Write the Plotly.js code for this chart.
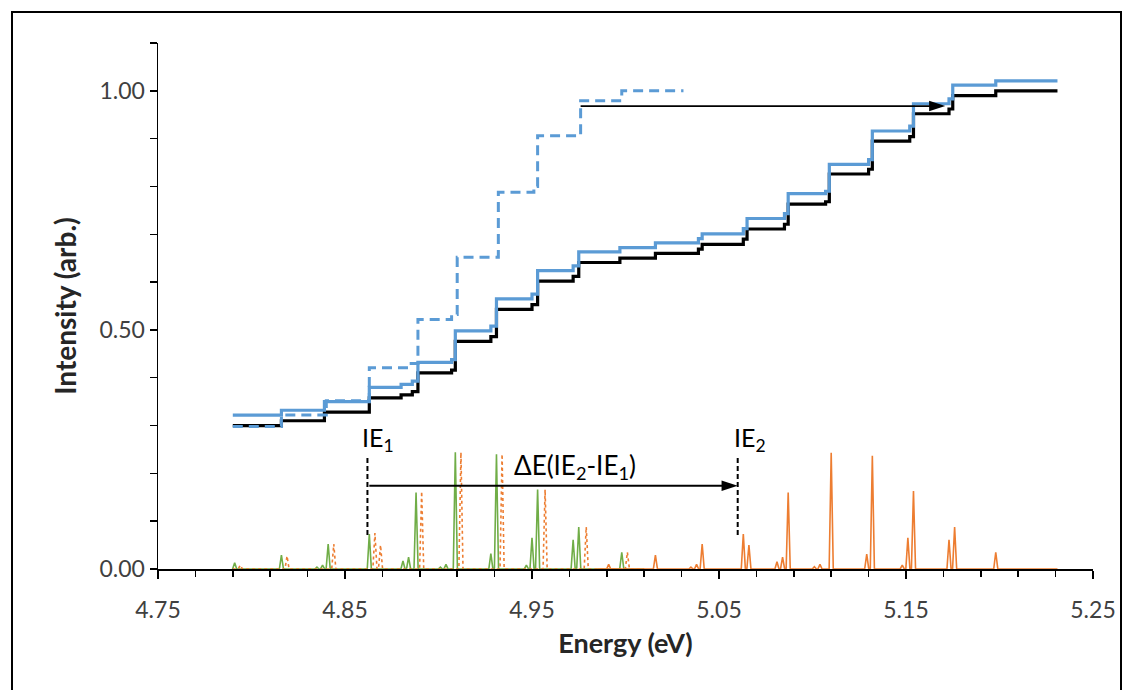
<!DOCTYPE html>
<html>
<head>
<meta charset="utf-8">
<script src="https://cdn.plot.ly/plotly-3.0.1.min.js"></script>
<style>
  html, body { margin: 0; padding: 0; background: #fff; }
  #wrap { position: relative; width: 1133px; height: 690px; overflow: hidden; }
  #chart { position: absolute; left: 0; top: 0; width: 1133px; height: 690px; }
  #frame { position: absolute; left: 11px; top: 11px; width: 1111px; height: 700px;
           border: 2px solid #000; box-sizing: border-box; pointer-events: none; }
</style>
</head>
<body>
<div id="wrap">
  <div id="chart"></div>
  <div id="frame"></div>
</div>
<script>
// ---- Cumulative (integrated) curves: step positions (eV) and levels ----
const stepEnergy = [4.790, 4.816, 4.839, 4.863, 4.880, 4.886, 4.889, 4.907, 4.909, 4.928, 4.931,
                    4.950, 4.953, 4.972, 4.975, 4.997, 5.016, 5.039, 5.041, 5.063, 5.065, 5.085,
                    5.087, 5.107, 5.109, 5.130, 5.132, 5.152, 5.154, 5.173, 5.175, 5.198, 5.231];
const blackLevels = [0.300, 0.310, 0.328, 0.358, 0.364, 0.371, 0.410, 0.416, 0.476, 0.486, 0.543,
                     0.553, 0.602, 0.612, 0.641, 0.650, 0.660, 0.669, 0.679, 0.690, 0.711, 0.721,
                     0.763, 0.768, 0.826, 0.836, 0.895, 0.904, 0.952, 0.962, 0.990, 1.000, 1.000];
const blueLevels  = [0.322, 0.332, 0.350, 0.380, 0.386, 0.393, 0.432, 0.438, 0.498, 0.508, 0.565,
                     0.575, 0.624, 0.634, 0.663, 0.672, 0.682, 0.691, 0.701, 0.712, 0.733, 0.743,
                     0.785, 0.790, 0.846, 0.856, 0.916, 0.926, 0.973, 0.983, 1.012, 1.021, 1.021];

const dashedEnergy = [4.790, 4.816, 4.840, 4.863, 4.884, 4.889, 4.907, 4.910, 4.932, 4.951, 4.953, 4.976, 4.998, 5.031];
const dashedLevels = [0.298, 0.322, 0.352, 0.421, 0.430, 0.522, 0.532, 0.652, 0.788, 0.800, 0.906, 0.979, 1.000, 1.000];

// ---- Stick spectra: peak centres (eV) and heights ----
const greenPeakE = [4.791, 4.816, 4.835, 4.838, 4.841, 4.863, 4.881, 4.884, 4.888, 4.901, 4.904, 4.909,
                    4.928, 4.931, 4.947, 4.950, 4.953, 4.972, 4.975, 4.998];
const greenPeakH = [0.013, 0.029, 0.004, 0.008, 0.052, 0.073, 0.017, 0.025, 0.160, 0.004, 0.010, 0.244,
                    0.032, 0.240, 0.008, 0.065, 0.166, 0.061, 0.088, 0.035];

const dotPeakE = [4.794, 4.819, 4.844, 4.866, 4.869, 4.891, 4.912, 4.934, 4.957, 4.979, 5.001];
const dotPeakH = [0.008, 0.027, 0.052, 0.075, 0.050, 0.162, 0.244, 0.240, 0.166, 0.088, 0.035];

const orangePeakE = [4.991, 5.016, 5.035, 5.038, 5.041, 5.063, 5.066, 5.081, 5.084, 5.087, 5.101, 5.104,
                     5.110, 5.129, 5.132, 5.148, 5.151, 5.154, 5.173, 5.176, 5.198];
const orangePeakH = [0.010, 0.029, 0.004, 0.010, 0.052, 0.073, 0.050, 0.015, 0.025, 0.160, 0.005, 0.010,
                     0.243, 0.031, 0.237, 0.008, 0.065, 0.163, 0.061, 0.088, 0.035];

const greenSpan  = [4.790, 5.010];
const dotSpan    = [4.790, 5.010];
const orangeSpan = [4.985, 5.231];

// ---- Annotation values ----
const IE1 = 4.862, IE2 = 5.060;
const ieLineY = [0.071, 0.233];
const deltaArrowY = 0.174;
const shiftArrow = {from: 4.976, to: 5.171, y: 0.968};

// build a narrow-peak line trace from stick positions/heights
function spectrum(centres, heights, span, halfWidth) {
  const xs = [span[0]], ys = [0];
  centres.forEach((c, i) => {
    xs.push(c - halfWidth, c, c + halfWidth);
    ys.push(0, heights[i], 0);
  });
  xs.push(span[1]); ys.push(0);
  return {x: xs, y: ys};
}
const HW = 0.0011;
const gS = spectrum(greenPeakE, greenPeakH, greenSpan, HW);
const dS = spectrum(dotPeakE, dotPeakH, dotSpan, HW);
const oS = spectrum(orangePeakE, orangePeakH, orangeSpan, HW);

const BLUE = '#5B9BD5', ORANGE = '#ED7D31', GREEN = '#70AD47';
const FONT = 'Lato, "Open Sans", sans-serif';
const TXT = '#404040';

function arrowTrace(x0, x1, y, width) {
  return {x: [x0, x1], y: [y, y], mode: 'lines+markers', hoverinfo: 'skip',
          line: {color: '#000', width: width},
          marker: {symbol: 'arrow', angleref: 'previous', size: [0, 17], color: '#000',
                   opacity: 1, line: {width: 0}}};
}

const traces = [
  {x: gS.x, y: gS.y, mode: 'lines', line: {color: GREEN, width: 1.6}, hoverinfo: 'skip'},
  {x: dS.x, y: dS.y, mode: 'lines', line: {color: ORANGE, width: 1.6, dash: 'dot'}, hoverinfo: 'skip'},
  {x: oS.x, y: oS.y, mode: 'lines', line: {color: ORANGE, width: 1.6}, hoverinfo: 'skip'},
  {x: stepEnergy, y: blackLevels, mode: 'lines', line: {color: '#000000', width: 3.2, shape: 'hv'}},
  {x: stepEnergy, y: blueLevels, mode: 'lines', line: {color: BLUE, width: 3.2, shape: 'hv'}},
  {x: dashedEnergy, y: dashedLevels, mode: 'lines', line: {color: BLUE, width: 3, shape: 'hv', dash: '10px,6px'}},
  arrowTrace(IE1 + 0.001, IE2, deltaArrowY, 2),
  arrowTrace(shiftArrow.from, shiftArrow.to, shiftArrow.y, 1.8)
];

const layout = {
  width: 1133, height: 690,
  margin: {l: 158, r: 40, t: 43, b: 121},
  paper_bgcolor: '#ffffff', plot_bgcolor: '#ffffff',
  showlegend: false,
  font: {family: FONT, color: TXT, size: 23},
  xaxis: {
    range: [4.75, 5.25], tick0: 4.75, dtick: 0.1, tickformat: '.2f',
    ticks: 'outside', ticklen: 8, tickwidth: 1.5, tickcolor: '#000',
    showline: true, linecolor: '#000', linewidth: 1.5, layer: 'below traces',
    showgrid: false, zeroline: false, ticklabelstandoff: 12,
    tickfont: {family: FONT, size: 23, color: TXT},
    minor: {tick0: 4.75, dtick: 0.02, ticks: 'outside', ticklen: 6, tickwidth: 1.5, tickcolor: '#000', showgrid: false},
    title: {text: '<b>Energy (eV)</b>', font: {family: FONT, size: 27, color: '#262626'}, standoff: 12},
    automargin: false
  },
  yaxis: {
    range: [0, 1.1], tick0: 0, dtick: 0.5, tickformat: '.2f',
    ticks: 'outside', ticklen: 7, tickwidth: 1.5, tickcolor: '#000',
    showline: true, linecolor: '#000', linewidth: 1.5,
    showgrid: false, zeroline: false,
    tickfont: {family: FONT, size: 23, color: TXT},
    minor: {tick0: 0, dtick: 0.1, ticks: 'outside', ticklen: 7, tickwidth: 1.5, tickcolor: '#000', showgrid: false},
    title: {text: '<b>Intensity (arb.)</b>', font: {family: FONT, size: 28, color: '#262626'}, standoff: 14},
    automargin: false
  },
  shapes: [
    {type: 'line', xref: 'x', yref: 'y', x0: IE1, x1: IE1, y0: ieLineY[0], y1: ieLineY[1],
     line: {color: '#000', width: 2, dash: '5px,3px'}},
    {type: 'line', xref: 'x', yref: 'y', x0: IE2, x1: IE2, y0: ieLineY[0], y1: ieLineY[1],
     line: {color: '#000', width: 2, dash: '5px,3px'}}
  ],
  annotations: [
    {x: IE1 - 0.004, y: ieLineY[1], xref: 'x', yref: 'y', xanchor: 'left', yanchor: 'bottom',
     text: 'IE<sub>1</sub>', showarrow: false, font: {family: FONT, size: 25, color: '#000'}},
    {x: IE2 - 0.003, y: ieLineY[1], xref: 'x', yref: 'y', xanchor: 'left', yanchor: 'bottom',
     text: 'IE<sub>2</sub>', showarrow: false, font: {family: FONT, size: 25, color: '#000'}},
    {x: 4.9395, y: 0.214, xref: 'x', yref: 'y', xanchor: 'left', yanchor: 'middle',
     text: '\u0394E(IE<sub>2</sub>-IE<sub>1</sub>)', showarrow: false, font: {family: FONT, size: 26, color: '#000'}}
  ]
};

Plotly.newPlot('chart', traces, layout, {displayModeBar: false, staticPlot: true});
</script>
</body>
</html>
